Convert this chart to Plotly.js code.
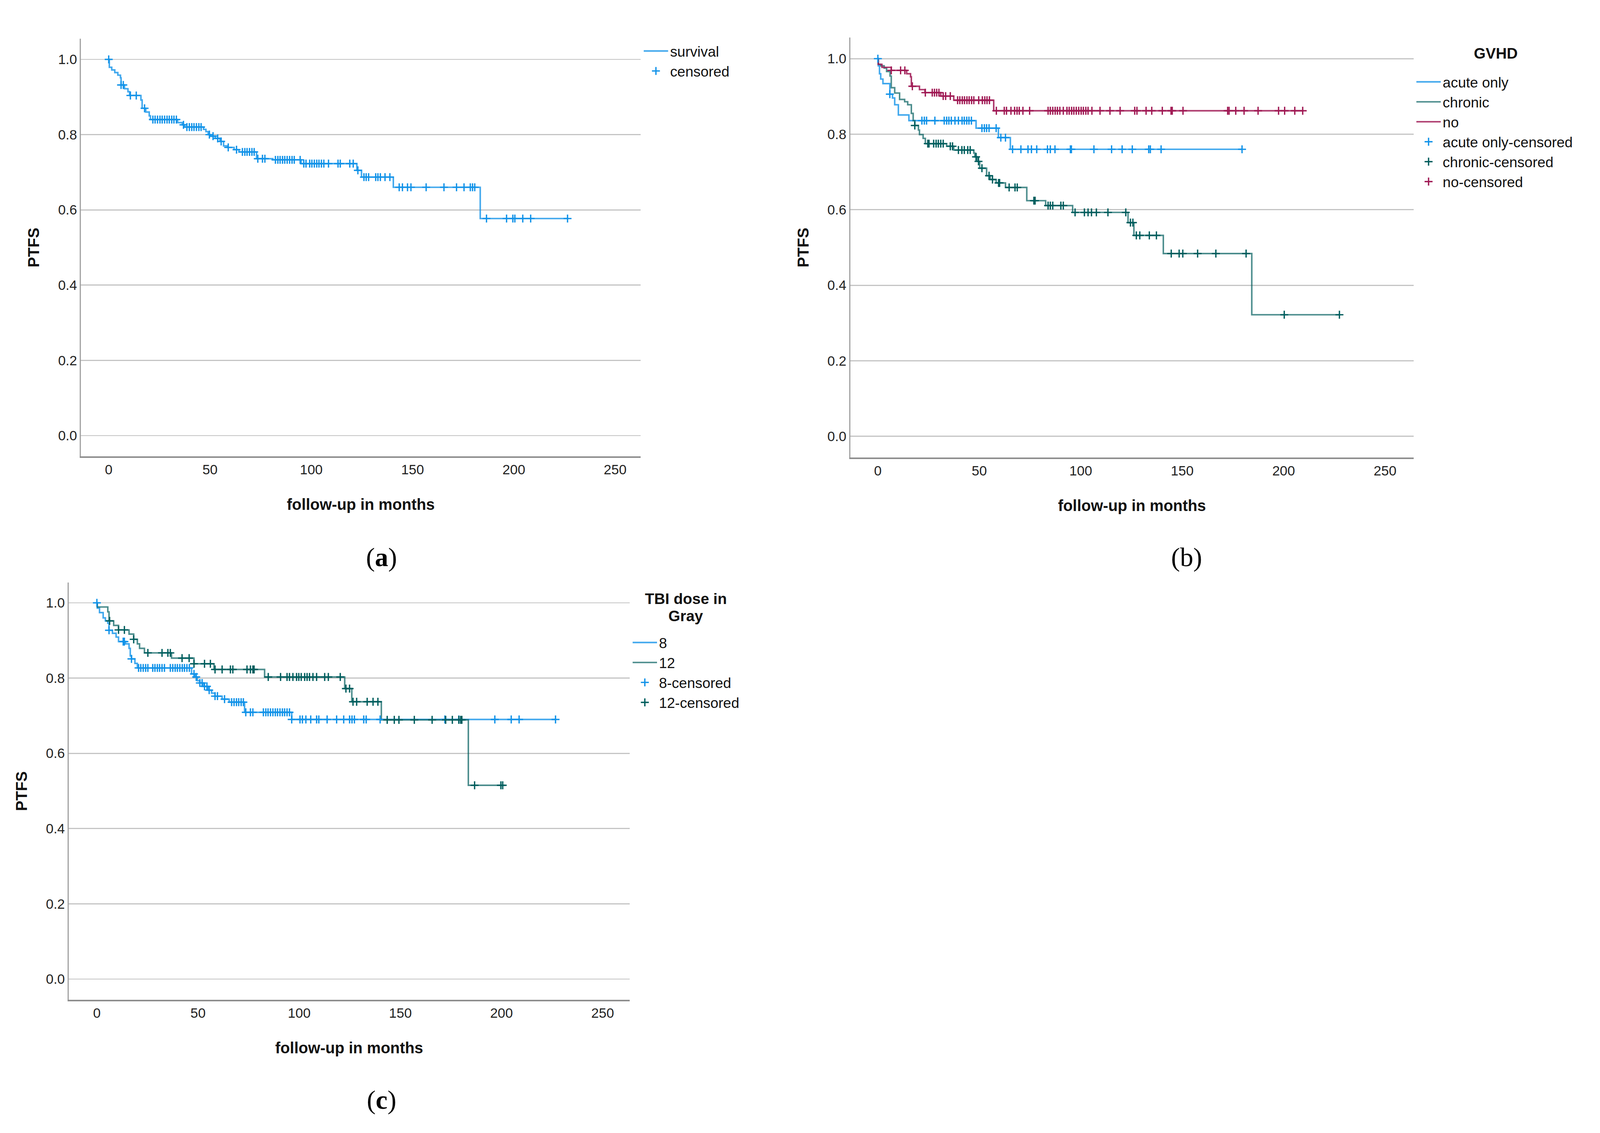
<!DOCTYPE html>
<html><head><meta charset="utf-8">
<script src="https://cdn.plot.ly/plotly-3.0.1.min.js"></script>
<style>html,body{margin:0;padding:0;background:#fff;overflow:hidden;}</style>
</head><body><div id="chart"></div>
<script>
// ---------- Panel (a): overall ----------
const tA = [0,0.3,1.5,3,4.5,5.8,6.1,7.8,9.5,10.3,15.9,16.5,18.3,20,20.6,34,36.3,37.5,46.8,48,49.1,50.3,52.6,54.9,56.7,58.4,61.9,64.3,73,81,95,122.5,124.8,140.5,183.4];
const sA = [1.0,0.979,0.972,0.965,0.958,0.951,0.932,0.922,0.914,0.904,0.892,0.870,0.860,0.850,0.840,0.832,0.826,0.820,0.814,0.808,0.800,0.796,0.790,0.782,0.770,0.766,0.760,0.754,0.736,0.733,0.723,0.705,0.687,0.660,0.577];
const cA = [0,6.1,7.2,10.7,13.6,17.7,21.8,22.9,24.1,25.3,26.4,27.6,28.8,29.9,31.1,32.2,33.4,36.9,38.6,39.8,41,42.1,43.3,44.5,45.6,49.7,51.5,53.8,55.5,59,63.1,66,67.2,68.3,69.5,70.7,71.8,73.6,75.9,77.1,82.3,83.5,84.6,85.8,86.9,88.1,89.3,90.5,91.6,94.5,96.3,97.4,99.2,100.3,101.5,102.7,103.8,105,106.2,108.5,113.2,114.3,119,120.7,123,126,127.1,128.3,131.8,132.9,134.1,136.4,138.8,143.4,145,147.5,149.2,156.7,165.5,171.7,175.4,178.5,179.6,180.7,186.5,196.4,199.5,200.5,204.4,208.3,226.5];

// ---------- Panel (b): GVHD ----------
const tAcute = [0,0.2,0.8,1.4,2.5,5.9,7.2,8.3,10.1,15.3,48.4,59.4,65.3];
const sAcute = [1.0,0.981,0.960,0.946,0.934,0.906,0.896,0.878,0.851,0.836,0.816,0.791,0.760];
const cAcute = [0,5.9,21.7,22.9,24,28.1,32.7,33.9,35,36.2,38,39.7,41.5,42.6,43.8,44.9,46.1,51.3,52.5,53.6,54.8,58.3,60.6,62.9,66.4,70.5,74,75.7,78.3,83.6,85,87.3,94.9,95.4,106.5,115.2,120.4,125.4,133.5,134.3,139.6,179.5];
const tChronic = [0,0.2,1.4,3.1,4.3,6,6.6,8.3,10.7,13.2,14.7,16.5,17.4,18.2,20,20.5,22.3,23.4,33.9,37.4,47.3,47.8,49,50.2,53.6,55.4,58.3,62.9,73.4,82.7,96,123.3,126.2,140.7,184.3];
const sChronic = [1.0,0.985,0.981,0.975,0.966,0.954,0.923,0.909,0.892,0.886,0.878,0.855,0.836,0.823,0.811,0.799,0.789,0.775,0.768,0.758,0.750,0.740,0.728,0.710,0.690,0.680,0.671,0.659,0.624,0.611,0.593,0.566,0.532,0.484,0.322];
const cChronic = [18.2,24.6,25.2,27.5,28.7,29.8,31,32.2,35.7,36.8,39.7,41.4,42.6,44.3,45.5,48.4,49.6,51.3,54.8,56.5,59.5,60,64.7,67.6,68.7,76.9,77.5,83.9,85,86.2,90.2,91.4,97.2,101.8,103.6,105.3,107.7,113.4,122.2,124.5,125.7,127.4,129.1,133.8,137.3,144.6,148.5,150.3,157.6,166.6,181.5,200.3,227.5];
const tNo = [0,0.2,2,6.6,14.2,16.1,16.5,20.5,23.2,31,37.4,57.1];
const sNo = [1.0,0.985,0.977,0.969,0.960,0.952,0.927,0.918,0.910,0.901,0.890,0.862];
const cNo = [6.6,11.2,13.3,17,23.4,26.8,27.9,29,30.1,32.2,33.4,35.7,39.3,40.4,41.6,42.7,43.9,45,46.2,47.3,49.7,51.5,52.7,53.8,55,58.4,62.3,63.4,65.6,67.4,68.6,69.7,71.5,74.8,83.9,85,86.2,87.4,88.5,89.7,91.4,93.2,94.3,95.5,96.6,97.8,99,100.2,101.3,102.5,103.6,105.5,109.5,114.4,119.4,126.6,127.7,132.2,135,140.2,144.5,145.1,150.4,172.4,173.1,176.4,180.5,187.4,197.5,200.5,205.5,209.4];

// ---------- Panel (c): TBI dose ----------
const t8 = [0,0.2,1.3,3.1,4.2,5.4,6,7.7,9.5,10.7,14.2,15.9,16.5,17.1,18.8,20,46.8,48.5,49.7,50.9,52.6,55,56.7,58.4,61.9,65.4,73,96.3];
const s8 = [1.0,0.986,0.974,0.960,0.952,0.946,0.927,0.919,0.909,0.897,0.891,0.879,0.859,0.851,0.839,0.827,0.811,0.803,0.793,0.787,0.778,0.768,0.760,0.752,0.744,0.736,0.709,0.690];
const c8 = [0,6,13,13.6,17.1,20.6,21.7,22.9,24.1,25.2,27.6,28.7,29.9,31,32.2,33.4,36.3,37.5,38.7,39.8,41,42.2,43.3,44.5,45.7,48,49.1,50.9,52,53.2,54.4,55.5,58.4,59.6,63.1,66.6,67.8,69,70.1,71.3,72.4,73.6,75.9,77.1,82.3,83.5,84.6,85.8,87,88.2,89.3,90.5,91.7,92.8,94,95.2,96.3,100.4,101.6,103.3,105.7,108.6,109.7,113.8,118.5,122,124.9,126.1,127.3,131.9,133.1,140,172,178.9,196.7,204.8,208.7,226.7];
const t12 = [0,0.2,5.4,6,8.3,10.7,15.9,18.2,20,21.1,23.5,36.9,48,57.9,82.9,122.5,126,140.6,183.6];
const s12 = [1.0,0.989,0.976,0.952,0.940,0.928,0.917,0.903,0.891,0.879,0.867,0.853,0.838,0.823,0.803,0.772,0.737,0.689,0.515];
const c12 = [6.3,10.7,13.6,18.2,25.2,32.2,35.1,36.3,42.1,45.6,48,53.2,56.1,58.4,61.9,66,67.2,74.2,75.9,77.1,77.7,84.7,90.8,94,95.2,96.9,98.7,99.8,101,102.7,103.9,105.1,106.8,108.6,112.6,114.4,120.3,123.1,124.9,126.6,128.4,133.6,136.5,138.9,143.5,147,149.3,156.9,165.7,172.4,175.7,178.9,179.8,180.4,186.7,199.7,200.6];

const yTicks = [0,0.2,0.4,0.6,0.8,1.0];
const xTicks = [0,50,100,150,200,250];

const CYAN = '#1192e8', TEAL = '#005d5d', MAG = '#9f1853';
const CYAN_L = 'rgba(17,146,232,0.8)', TEAL_L = 'rgba(0,93,93,0.7)', MAG_L = 'rgba(159,24,83,0.85)';

// fit the 4328x2900 design into the actual viewport (positions as fractions of it)
const RW = 4328, RH = 2900;
const W = window.innerWidth || RW, H = window.innerHeight || RH;
const sx = W/RW, sy = H/RH, f = Math.sqrt(sx*sy);
const chartDiv = document.getElementById('chart');
chartDiv.style.width = W+'px'; chartDiv.style.height = H+'px';

function survAt(T,S,t){ let v=S[0]; for(let i=0;i<T.length;i++){ if(T[i]<=t) v=S[i]; } return v; }
function stepTrace(T,S,C,name,color,xa,ya,leg){
  const end = Math.max(T[T.length-1], Math.max.apply(null,C));
  return {type:'scatter',mode:'lines',name:name,x:T.concat([end]),y:S.concat([S[S.length-1]]),
    line:{shape:'hv',width:4*f,color:color},xaxis:xa,yaxis:ya,legend:leg,hoverinfo:'skip'};
}
function censTrace(T,S,C,name,color,xa,ya,leg){
  return {type:'scatter',mode:'markers',name:name,x:C,y:C.map(t=>survAt(T,S,t)),
    marker:{symbol:'cross-thin',size:15*f,color:color,line:{width:3.5*f,color:color}},
    xaxis:xa,yaxis:ya,legend:leg,hoverinfo:'skip'};
}

const traces = [
  stepTrace(tA,sA,cA,'survival',CYAN_L,'x','y','legend'),
  censTrace(tA,sA,cA,'censored',CYAN,'x','y','legend'),
  stepTrace(tAcute,sAcute,cAcute,'acute only',CYAN_L,'x2','y2','legend2'),
  stepTrace(tChronic,sChronic,cChronic,'chronic',TEAL_L,'x2','y2','legend2'),
  stepTrace(tNo,sNo,cNo,'no',MAG_L,'x2','y2','legend2'),
  censTrace(tAcute,sAcute,cAcute,'acute only-censored',CYAN,'x2','y2','legend2'),
  censTrace(tChronic,sChronic,cChronic,'chronic-censored',TEAL,'x2','y2','legend2'),
  censTrace(tNo,sNo,cNo,'no-censored',MAG,'x2','y2','legend2'),
  stepTrace(t8,s8,c8,'8',CYAN_L,'x3','y3','legend3'),
  stepTrace(t12,s12,c12,'12',TEAL_L,'x3','y3','legend3'),
  censTrace(t8,s8,c8,'8-censored',CYAN,'x3','y3','legend3'),
  censTrace(t12,s12,c12,'12-censored',TEAL,'x3','y3','legend3')
];

const FONT='Liberation Sans, Arial, sans-serif';
function xAx(dom,rng,anchor){
  return {domain:dom,range:rng,anchor:anchor,tickvals:xTicks,ticktext:xTicks.map(String),
    showgrid:false,zeroline:false,showline:true,linecolor:'#8e8e8e',linewidth:4*f,ticks:'',
    ticklabelstandoff:12.5*sy,tickfont:{family:FONT,size:36*f,color:'#222'},
    title:{text:'follow-up in months',standoff:58*sy,font:{family:FONT,size:41*f,color:'#111',weight:'bold'}},fixedrange:true};
}
function yAx(dom,rng,anchor){
  return {domain:dom,range:rng,anchor:anchor,tickvals:yTicks,ticktext:yTicks.map(v=>v.toFixed(1)),
    showgrid:true,gridcolor:'#c4c4c4',gridwidth:3*f,zeroline:false,showline:true,linecolor:'#a2a2a2',linewidth:3*f,ticks:'',
    ticklabelstandoff:10*sx,tickfont:{family:FONT,size:36*f,color:'#222'},
    title:{text:'PTFS',standoff:38*sx,font:{family:FONT,size:41*f,color:'#111',weight:'bold'}},fixedrange:true};
}
const legBase = {bgcolor:'rgba(0,0,0,0)',borderwidth:0,font:{family:FONT,size:38*f,color:'#111'},
  xanchor:'left',yanchor:'top',itemwidth:Math.max(30,66*sx),tracegroupgap:0,itemclick:false,itemdoubleclick:false};
const TFONT = {family:FONT,size:40*f,color:'#111',weight:'bold'};
const SERIF = {family:'Liberation Serif, Times New Roman, serif',size:70*f,color:'#000'};
function ann(text,xr,yr,font){ return {text:text,x:xr/RW,y:1-yr/RH,xref:'paper',yref:'paper',showarrow:false,xanchor:'center',yanchor:'middle',font:font}; }

const layout = {
  width:W,height:H,margin:{l:0,r:0,t:0,b:0},paper_bgcolor:'#fff',plot_bgcolor:'#fff',
  showlegend:true,
  xaxis: xAx([219/RW,1733/RW],[-13.7,262.6],'y'),
  yaxis: yAx([1-1168/RH,1-99/RH],[-0.055,1.055],'x'),
  xaxis2: xAx([2300/RW,3824/RW],[-13.6,264.1],'y2'),
  yaxis2: yAx([1-1171/RH,1-96/RH],[-0.056,1.056],'x2'),
  xaxis3: xAx([186/RW,1703/RW],[-13.9,263.3],'y3'),
  yaxis3: yAx([1-2559/RH,1-1491/RH],[-0.055,1.054],'x3'),
  legend: Object.assign({},legBase,{x:1736/RW,y:1-100/RH}),
  legend2: Object.assign({},legBase,{x:3826/RW,y:1-179/RH}),
  legend3: Object.assign({},legBase,{x:1706/RW,y:1-1614/RH}),
  annotations:[
    ann('GVHD',4046,136,TFONT),
    ann('TBI dose in',1855,1532,TFONT),
    ann('Gray',1855,1576,TFONT),
    ann('(<b>a</b>)',1032,1426,SERIF),
    ann('(b)',3210,1426,SERIF),
    ann('(<b>c</b>)',1032,2815,SERIF)
  ]
};
Plotly.newPlot('chart',traces,layout,{staticPlot:true,displayModeBar:false});
</script></body></html>
